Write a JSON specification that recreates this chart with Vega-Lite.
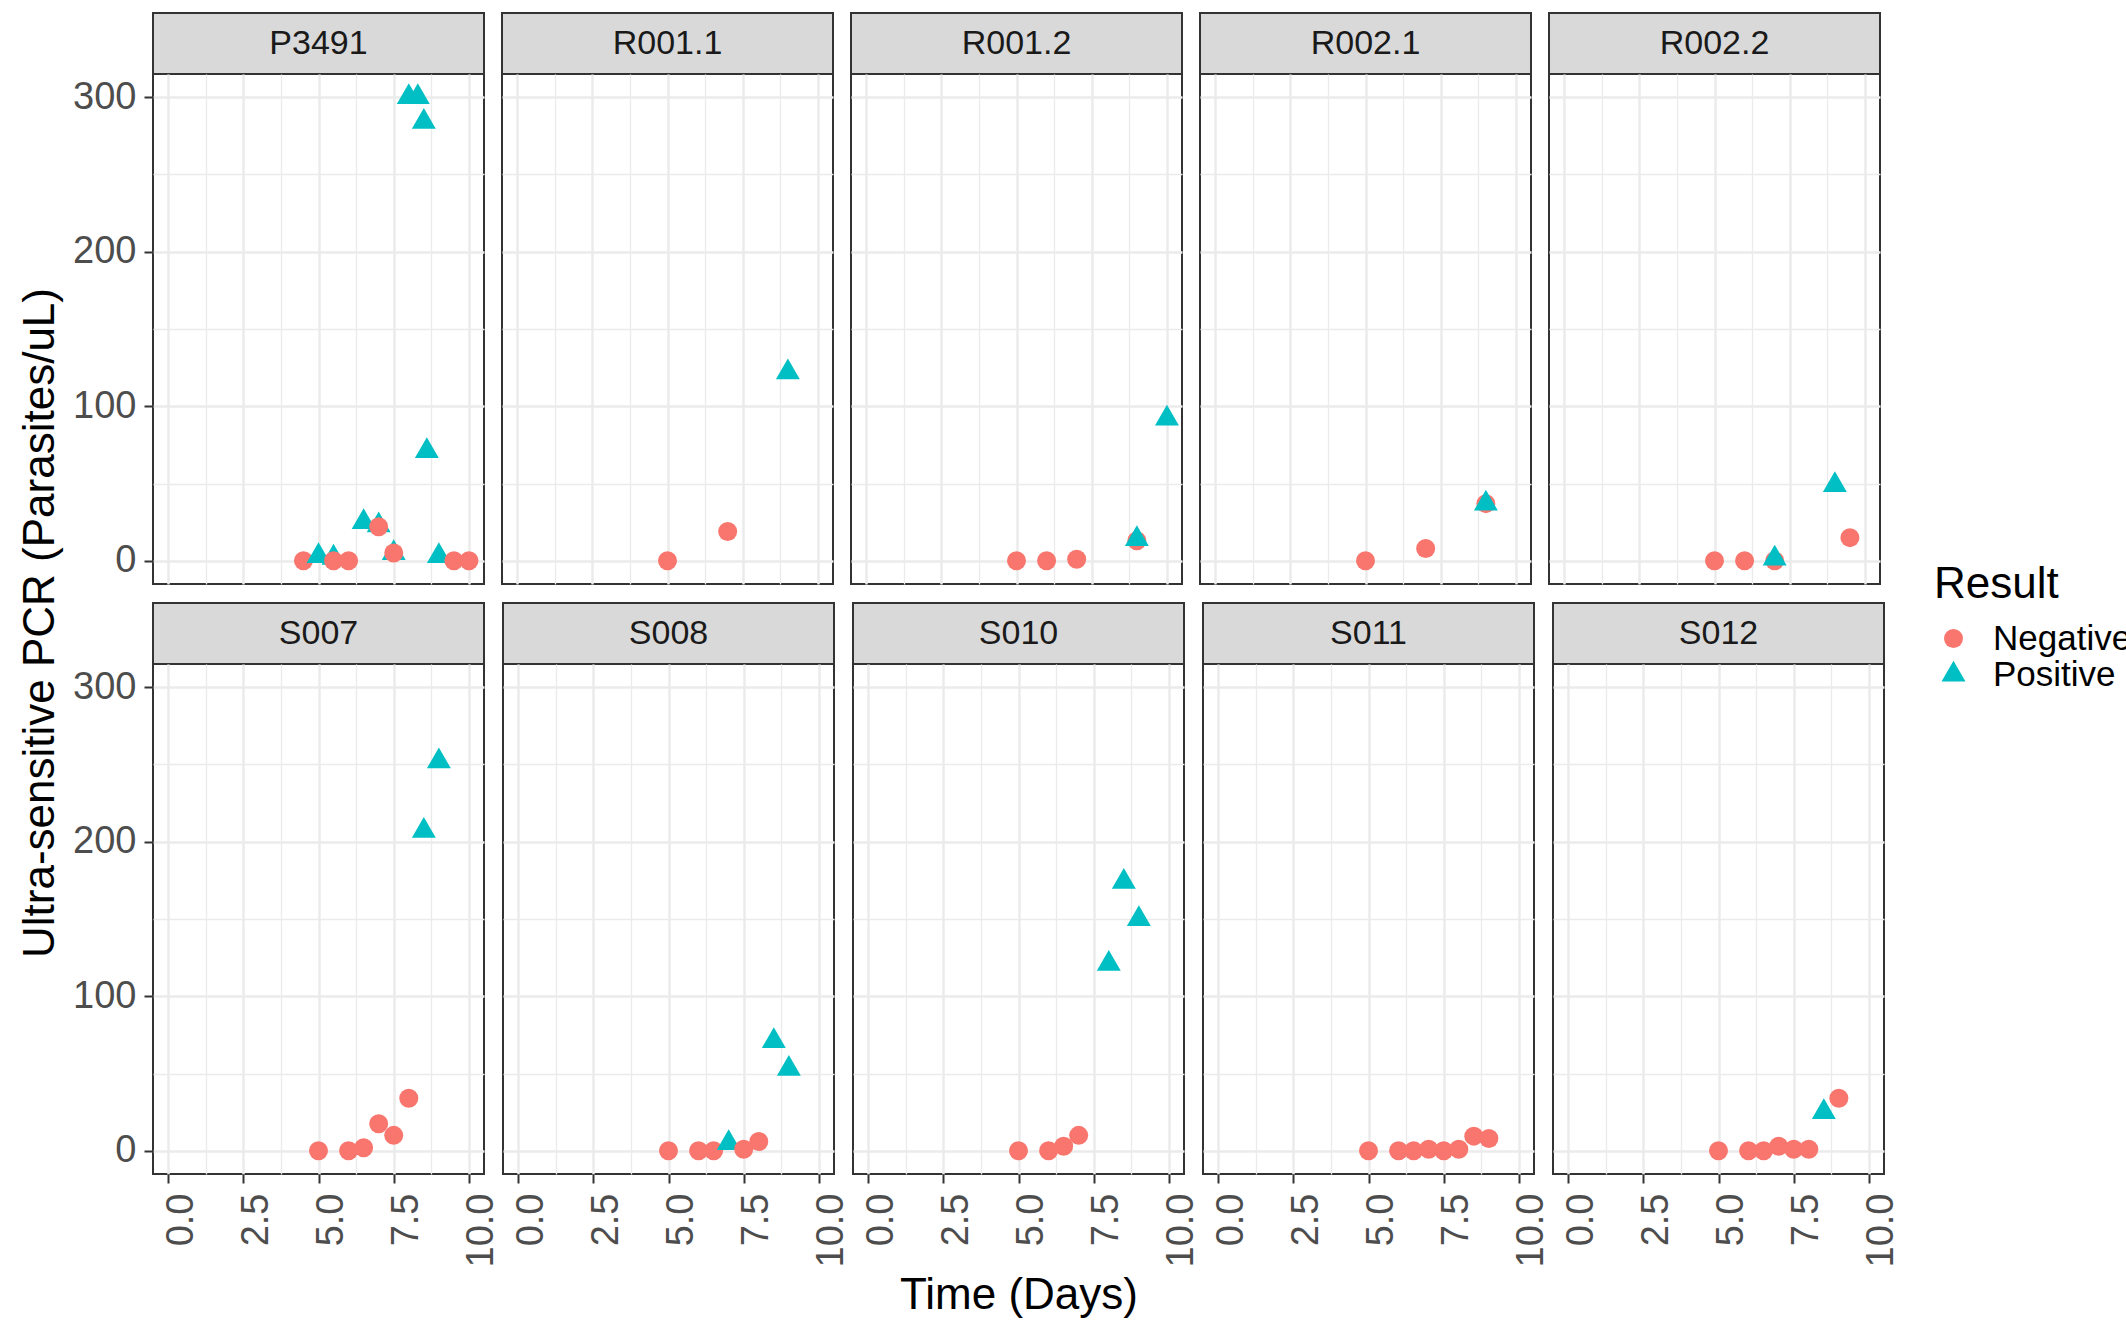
{
  "$schema": "https://vega.github.io/schema/vega-lite/v6.json",
  "background": "white",
  "padding": {"left": 0, "top": 12, "right": 0, "bottom": 0},
  "data": {"values": [
    {"Sample": "P3491", "Time": 4.5, "PCR": 0, "Result": "Negative"},
    {"Sample": "P3491", "Time": 5.0, "PCR": 3, "Result": "Positive"},
    {"Sample": "P3491", "Time": 5.5, "PCR": 2, "Result": "Positive"},
    {"Sample": "P3491", "Time": 5.5, "PCR": 0, "Result": "Negative"},
    {"Sample": "P3491", "Time": 6.0, "PCR": 0, "Result": "Negative"},
    {"Sample": "P3491", "Time": 6.5, "PCR": 25, "Result": "Positive"},
    {"Sample": "P3491", "Time": 7.0, "PCR": 23, "Result": "Positive"},
    {"Sample": "P3491", "Time": 7.0, "PCR": 22, "Result": "Negative"},
    {"Sample": "P3491", "Time": 7.5, "PCR": 5, "Result": "Positive"},
    {"Sample": "P3491", "Time": 7.5, "PCR": 5, "Result": "Negative"},
    {"Sample": "P3491", "Time": 8.0, "PCR": 300, "Result": "Positive"},
    {"Sample": "P3491", "Time": 8.3, "PCR": 300, "Result": "Positive"},
    {"Sample": "P3491", "Time": 8.5, "PCR": 284, "Result": "Positive"},
    {"Sample": "P3491", "Time": 8.6, "PCR": 71, "Result": "Positive"},
    {"Sample": "P3491", "Time": 9.0, "PCR": 3, "Result": "Positive"},
    {"Sample": "P3491", "Time": 9.5, "PCR": 0, "Result": "Negative"},
    {"Sample": "P3491", "Time": 10.0, "PCR": 0, "Result": "Negative"},
    {"Sample": "R001.1", "Time": 5.0, "PCR": 0, "Result": "Negative"},
    {"Sample": "R001.1", "Time": 7.0, "PCR": 19, "Result": "Negative"},
    {"Sample": "R001.1", "Time": 9.0, "PCR": 122, "Result": "Positive"},
    {"Sample": "R001.2", "Time": 5.0, "PCR": 0, "Result": "Negative"},
    {"Sample": "R001.2", "Time": 6.0, "PCR": 0, "Result": "Negative"},
    {"Sample": "R001.2", "Time": 7.0, "PCR": 1, "Result": "Negative"},
    {"Sample": "R001.2", "Time": 9.0, "PCR": 13, "Result": "Negative"},
    {"Sample": "R001.2", "Time": 9.0, "PCR": 14, "Result": "Positive"},
    {"Sample": "R001.2", "Time": 10.0, "PCR": 92, "Result": "Positive"},
    {"Sample": "R002.1", "Time": 5.0, "PCR": 0, "Result": "Negative"},
    {"Sample": "R002.1", "Time": 7.0, "PCR": 8, "Result": "Negative"},
    {"Sample": "R002.1", "Time": 9.0, "PCR": 37, "Result": "Negative"},
    {"Sample": "R002.1", "Time": 9.0, "PCR": 37, "Result": "Positive"},
    {"Sample": "R002.2", "Time": 5.0, "PCR": 0, "Result": "Negative"},
    {"Sample": "R002.2", "Time": 6.0, "PCR": 0, "Result": "Negative"},
    {"Sample": "R002.2", "Time": 7.0, "PCR": 0, "Result": "Negative"},
    {"Sample": "R002.2", "Time": 7.0, "PCR": 1.5, "Result": "Positive"},
    {"Sample": "R002.2", "Time": 9.0, "PCR": 49, "Result": "Positive"},
    {"Sample": "R002.2", "Time": 9.5, "PCR": 15, "Result": "Negative"},
    {"Sample": "S007", "Time": 5.0, "PCR": 0, "Result": "Negative"},
    {"Sample": "S007", "Time": 6.0, "PCR": 0, "Result": "Negative"},
    {"Sample": "S007", "Time": 6.5, "PCR": 2, "Result": "Negative"},
    {"Sample": "S007", "Time": 7.0, "PCR": 17.5, "Result": "Negative"},
    {"Sample": "S007", "Time": 7.5, "PCR": 10, "Result": "Negative"},
    {"Sample": "S007", "Time": 8.0, "PCR": 34, "Result": "Negative"},
    {"Sample": "S007", "Time": 8.5, "PCR": 207, "Result": "Positive"},
    {"Sample": "S007", "Time": 9.0, "PCR": 252, "Result": "Positive"},
    {"Sample": "S008", "Time": 5.0, "PCR": 0, "Result": "Negative"},
    {"Sample": "S008", "Time": 6.0, "PCR": 0, "Result": "Negative"},
    {"Sample": "S008", "Time": 6.5, "PCR": 0, "Result": "Negative"},
    {"Sample": "S008", "Time": 7.0, "PCR": 5, "Result": "Positive"},
    {"Sample": "S008", "Time": 7.5, "PCR": 1, "Result": "Negative"},
    {"Sample": "S008", "Time": 8.0, "PCR": 6, "Result": "Negative"},
    {"Sample": "S008", "Time": 8.5, "PCR": 71, "Result": "Positive"},
    {"Sample": "S008", "Time": 9.0, "PCR": 53, "Result": "Positive"},
    {"Sample": "S010", "Time": 5.0, "PCR": 0, "Result": "Negative"},
    {"Sample": "S010", "Time": 6.0, "PCR": 0, "Result": "Negative"},
    {"Sample": "S010", "Time": 6.5, "PCR": 3, "Result": "Negative"},
    {"Sample": "S010", "Time": 7.0, "PCR": 10, "Result": "Negative"},
    {"Sample": "S010", "Time": 8.0, "PCR": 121, "Result": "Positive"},
    {"Sample": "S010", "Time": 8.5, "PCR": 174, "Result": "Positive"},
    {"Sample": "S010", "Time": 9.0, "PCR": 150, "Result": "Positive"},
    {"Sample": "S011", "Time": 5.0, "PCR": 0, "Result": "Negative"},
    {"Sample": "S011", "Time": 6.0, "PCR": 0, "Result": "Negative"},
    {"Sample": "S011", "Time": 6.5, "PCR": 0, "Result": "Negative"},
    {"Sample": "S011", "Time": 7.0, "PCR": 1, "Result": "Negative"},
    {"Sample": "S011", "Time": 7.5, "PCR": 0, "Result": "Negative"},
    {"Sample": "S011", "Time": 8.0, "PCR": 1, "Result": "Negative"},
    {"Sample": "S011", "Time": 8.5, "PCR": 9.5, "Result": "Negative"},
    {"Sample": "S011", "Time": 9.0, "PCR": 8, "Result": "Negative"},
    {"Sample": "S012", "Time": 5.0, "PCR": 0, "Result": "Negative"},
    {"Sample": "S012", "Time": 6.0, "PCR": 0, "Result": "Negative"},
    {"Sample": "S012", "Time": 6.5, "PCR": 0, "Result": "Negative"},
    {"Sample": "S012", "Time": 7.0, "PCR": 3, "Result": "Negative"},
    {"Sample": "S012", "Time": 7.5, "PCR": 1, "Result": "Negative"},
    {"Sample": "S012", "Time": 8.0, "PCR": 1, "Result": "Negative"},
    {"Sample": "S012", "Time": 8.5, "PCR": 25, "Result": "Positive"},
    {"Sample": "S012", "Time": 9.0, "PCR": 34, "Result": "Negative"}
  ]},
  "config": {
    "font": "Liberation Sans",
    "view": {"stroke": "#333333", "strokeWidth": 2},
    "axis": {
      "labelFont": "Liberation Sans", "labelFontSize": 38, "labelColor": "#4d4d4d",
      "tickColor": "#333333", "tickWidth": 2, "tickSize": 9, "domain": false,
      "gridColor": "#ebebeb", "titleFont": "Liberation Sans", "titleFontSize": 44,
      "titleFontWeight": "normal", "titleColor": "black", "labelOverlap": false, "labelFlush": false
    },
    "concat": {"spacing": 18}
  },
  "hconcat": [
    {
      "width": 60, "height": 1220,
      "data": {"values": [{"t": "Ultra-sensitive PCR (Parasites/uL)"}]},
      "mark": {"type": "text", "angle": 270, "fontSize": 44, "font": "Liberation Sans", "color": "black", "align": "center", "baseline": "middle", "dy": 11},
      "encoding": {"text": {"field": "t"}},
      "view": {"stroke": null}
    },
    {
      "spacing": 17,
      "vconcat": [
        {"spacing": 16, "hconcat": [
          {"spacing": 0, "bounds": "flush", "vconcat": [
            {"width": 331, "height": 61, "view": {"fill": "#d9d9d9", "stroke": "#333333", "strokeWidth": 2},
             "transform": [{"filter": "datum.Sample === 'P3491'"}, {"aggregate": [{"op": "count", "as": "n"}], "groupby": ["Sample"]}],
             "mark": {"type": "text", "fontSize": 34, "color": "#1a1a1a", "align": "center", "baseline": "middle"},
             "encoding": {"text": {"field": "Sample"}}},
            {"width": 331, "height": 510,
             "transform": [{"filter": "datum.Sample === 'P3491'"}],
             "mark": {"type": "point", "filled": true, "opacity": 1, "size": 361, "strokeWidth": 0},
             "encoding": {
               "x": {"field": "Time", "type": "quantitative", "scale": {"domain": [-0.5, 10.5], "nice": false, "zero": false},
                     "axis": {"values": [0, 1.25, 2.5, 3.75, 5, 6.25, 7.5, 8.75, 10], "labels": false, "ticks": false, "title": null,
                              "gridWidth": {"condition": {"test": "datum.value % 2.5 === 0", "value": 2.5}, "value": 1.3}}},
               "y": {"field": "PCR", "type": "quantitative", "scale": {"domain": [-15, 315], "nice": false, "zero": false},
                     "axis": {"values": [0, 50, 100, 150, 200, 250, 300], "title": null, "labelPadding": 8,
                              "labelExpr": "datum.value % 100 === 0 ? datum.label : ''",
                              "tickOpacity": {"condition": {"test": "datum.value % 100 !== 0", "value": 0}, "value": 1},
                              "gridWidth": {"condition": {"test": "datum.value % 100 === 0", "value": 2.5}, "value": 1.3}}},
               "color": {"field": "Result", "type": "nominal", "scale": {"domain": ["Negative", "Positive"], "range": ["#F8766D", "#00BFC4"]},
                         "legend": {"title": "Result", "orient": "none", "legendX": 1934, "legendY": 550, "padding": 0, "titleFontSize": 44, "titleFontWeight": "normal", "titleColor": "black", "titlePadding": 14, "labelFontSize": 35, "labelColor": "black", "symbolSize": 361, "symbolStrokeWidth": 0, "symbolOffset": 2, "labelOffset": 22, "rowPadding": -3}},
               "shape": {"field": "Result", "type": "nominal", "scale": {"domain": ["Negative", "Positive"], "range": ["circle", "M0,-1.46L1.26,0.73L-1.26,0.73Z"]},
                         "legend": {"title": "Result", "orient": "none", "legendX": 1934, "legendY": 550, "padding": 0, "titleFontSize": 44, "titleFontWeight": "normal", "titleColor": "black", "titlePadding": 14, "labelFontSize": 35, "labelColor": "black", "symbolSize": 361, "symbolStrokeWidth": 0, "symbolOffset": 2, "labelOffset": 22, "rowPadding": -3}}
             }}
          ]},
          {"spacing": 0, "bounds": "flush", "vconcat": [
            {"width": 331, "height": 61, "view": {"fill": "#d9d9d9", "stroke": "#333333", "strokeWidth": 2},
             "transform": [{"filter": "datum.Sample === 'R001.1'"}, {"aggregate": [{"op": "count", "as": "n"}], "groupby": ["Sample"]}],
             "mark": {"type": "text", "fontSize": 34, "color": "#1a1a1a", "align": "center", "baseline": "middle"},
             "encoding": {"text": {"field": "Sample"}}},
            {"width": 331, "height": 510,
             "transform": [{"filter": "datum.Sample === 'R001.1'"}],
             "mark": {"type": "point", "filled": true, "opacity": 1, "size": 361, "strokeWidth": 0},
             "encoding": {
               "x": {"field": "Time", "type": "quantitative", "scale": {"domain": [-0.5, 10.5], "nice": false, "zero": false},
                     "axis": {"values": [0, 1.25, 2.5, 3.75, 5, 6.25, 7.5, 8.75, 10], "labels": false, "ticks": false, "title": null,
                              "gridWidth": {"condition": {"test": "datum.value % 2.5 === 0", "value": 2.5}, "value": 1.3}}},
               "y": {"field": "PCR", "type": "quantitative", "scale": {"domain": [-15, 315], "nice": false, "zero": false},
                     "axis": {"values": [0, 50, 100, 150, 200, 250, 300], "labels": false, "ticks": false, "title": null,
                              "gridWidth": {"condition": {"test": "datum.value % 100 === 0", "value": 2.5}, "value": 1.3}}},
               "color": {"field": "Result", "type": "nominal", "scale": {"domain": ["Negative", "Positive"], "range": ["#F8766D", "#00BFC4"]},
                         "legend": {"title": "Result", "orient": "none", "legendX": 1934, "legendY": 550, "padding": 0, "titleFontSize": 44, "titleFontWeight": "normal", "titleColor": "black", "titlePadding": 14, "labelFontSize": 35, "labelColor": "black", "symbolSize": 361, "symbolStrokeWidth": 0, "symbolOffset": 2, "labelOffset": 22, "rowPadding": -3}},
               "shape": {"field": "Result", "type": "nominal", "scale": {"domain": ["Negative", "Positive"], "range": ["circle", "M0,-1.46L1.26,0.73L-1.26,0.73Z"]},
                         "legend": {"title": "Result", "orient": "none", "legendX": 1934, "legendY": 550, "padding": 0, "titleFontSize": 44, "titleFontWeight": "normal", "titleColor": "black", "titlePadding": 14, "labelFontSize": 35, "labelColor": "black", "symbolSize": 361, "symbolStrokeWidth": 0, "symbolOffset": 2, "labelOffset": 22, "rowPadding": -3}}
             }}
          ]},
          {"spacing": 0, "bounds": "flush", "vconcat": [
            {"width": 331, "height": 61, "view": {"fill": "#d9d9d9", "stroke": "#333333", "strokeWidth": 2},
             "transform": [{"filter": "datum.Sample === 'R001.2'"}, {"aggregate": [{"op": "count", "as": "n"}], "groupby": ["Sample"]}],
             "mark": {"type": "text", "fontSize": 34, "color": "#1a1a1a", "align": "center", "baseline": "middle"},
             "encoding": {"text": {"field": "Sample"}}},
            {"width": 331, "height": 510,
             "transform": [{"filter": "datum.Sample === 'R001.2'"}],
             "mark": {"type": "point", "filled": true, "opacity": 1, "size": 361, "strokeWidth": 0},
             "encoding": {
               "x": {"field": "Time", "type": "quantitative", "scale": {"domain": [-0.5, 10.5], "nice": false, "zero": false},
                     "axis": {"values": [0, 1.25, 2.5, 3.75, 5, 6.25, 7.5, 8.75, 10], "labels": false, "ticks": false, "title": null,
                              "gridWidth": {"condition": {"test": "datum.value % 2.5 === 0", "value": 2.5}, "value": 1.3}}},
               "y": {"field": "PCR", "type": "quantitative", "scale": {"domain": [-15, 315], "nice": false, "zero": false},
                     "axis": {"values": [0, 50, 100, 150, 200, 250, 300], "labels": false, "ticks": false, "title": null,
                              "gridWidth": {"condition": {"test": "datum.value % 100 === 0", "value": 2.5}, "value": 1.3}}},
               "color": {"field": "Result", "type": "nominal", "scale": {"domain": ["Negative", "Positive"], "range": ["#F8766D", "#00BFC4"]},
                         "legend": {"title": "Result", "orient": "none", "legendX": 1934, "legendY": 550, "padding": 0, "titleFontSize": 44, "titleFontWeight": "normal", "titleColor": "black", "titlePadding": 14, "labelFontSize": 35, "labelColor": "black", "symbolSize": 361, "symbolStrokeWidth": 0, "symbolOffset": 2, "labelOffset": 22, "rowPadding": -3}},
               "shape": {"field": "Result", "type": "nominal", "scale": {"domain": ["Negative", "Positive"], "range": ["circle", "M0,-1.46L1.26,0.73L-1.26,0.73Z"]},
                         "legend": {"title": "Result", "orient": "none", "legendX": 1934, "legendY": 550, "padding": 0, "titleFontSize": 44, "titleFontWeight": "normal", "titleColor": "black", "titlePadding": 14, "labelFontSize": 35, "labelColor": "black", "symbolSize": 361, "symbolStrokeWidth": 0, "symbolOffset": 2, "labelOffset": 22, "rowPadding": -3}}
             }}
          ]},
          {"spacing": 0, "bounds": "flush", "vconcat": [
            {"width": 331, "height": 61, "view": {"fill": "#d9d9d9", "stroke": "#333333", "strokeWidth": 2},
             "transform": [{"filter": "datum.Sample === 'R002.1'"}, {"aggregate": [{"op": "count", "as": "n"}], "groupby": ["Sample"]}],
             "mark": {"type": "text", "fontSize": 34, "color": "#1a1a1a", "align": "center", "baseline": "middle"},
             "encoding": {"text": {"field": "Sample"}}},
            {"width": 331, "height": 510,
             "transform": [{"filter": "datum.Sample === 'R002.1'"}],
             "mark": {"type": "point", "filled": true, "opacity": 1, "size": 361, "strokeWidth": 0},
             "encoding": {
               "x": {"field": "Time", "type": "quantitative", "scale": {"domain": [-0.5, 10.5], "nice": false, "zero": false},
                     "axis": {"values": [0, 1.25, 2.5, 3.75, 5, 6.25, 7.5, 8.75, 10], "labels": false, "ticks": false, "title": null,
                              "gridWidth": {"condition": {"test": "datum.value % 2.5 === 0", "value": 2.5}, "value": 1.3}}},
               "y": {"field": "PCR", "type": "quantitative", "scale": {"domain": [-15, 315], "nice": false, "zero": false},
                     "axis": {"values": [0, 50, 100, 150, 200, 250, 300], "labels": false, "ticks": false, "title": null,
                              "gridWidth": {"condition": {"test": "datum.value % 100 === 0", "value": 2.5}, "value": 1.3}}},
               "color": {"field": "Result", "type": "nominal", "scale": {"domain": ["Negative", "Positive"], "range": ["#F8766D", "#00BFC4"]},
                         "legend": {"title": "Result", "orient": "none", "legendX": 1934, "legendY": 550, "padding": 0, "titleFontSize": 44, "titleFontWeight": "normal", "titleColor": "black", "titlePadding": 14, "labelFontSize": 35, "labelColor": "black", "symbolSize": 361, "symbolStrokeWidth": 0, "symbolOffset": 2, "labelOffset": 22, "rowPadding": -3}},
               "shape": {"field": "Result", "type": "nominal", "scale": {"domain": ["Negative", "Positive"], "range": ["circle", "M0,-1.46L1.26,0.73L-1.26,0.73Z"]},
                         "legend": {"title": "Result", "orient": "none", "legendX": 1934, "legendY": 550, "padding": 0, "titleFontSize": 44, "titleFontWeight": "normal", "titleColor": "black", "titlePadding": 14, "labelFontSize": 35, "labelColor": "black", "symbolSize": 361, "symbolStrokeWidth": 0, "symbolOffset": 2, "labelOffset": 22, "rowPadding": -3}}
             }}
          ]},
          {"spacing": 0, "bounds": "flush", "vconcat": [
            {"width": 331, "height": 61, "view": {"fill": "#d9d9d9", "stroke": "#333333", "strokeWidth": 2},
             "transform": [{"filter": "datum.Sample === 'R002.2'"}, {"aggregate": [{"op": "count", "as": "n"}], "groupby": ["Sample"]}],
             "mark": {"type": "text", "fontSize": 34, "color": "#1a1a1a", "align": "center", "baseline": "middle"},
             "encoding": {"text": {"field": "Sample"}}},
            {"width": 331, "height": 510,
             "transform": [{"filter": "datum.Sample === 'R002.2'"}],
             "mark": {"type": "point", "filled": true, "opacity": 1, "size": 361, "strokeWidth": 0},
             "encoding": {
               "x": {"field": "Time", "type": "quantitative", "scale": {"domain": [-0.5, 10.5], "nice": false, "zero": false},
                     "axis": {"values": [0, 1.25, 2.5, 3.75, 5, 6.25, 7.5, 8.75, 10], "labels": false, "ticks": false, "title": null,
                              "gridWidth": {"condition": {"test": "datum.value % 2.5 === 0", "value": 2.5}, "value": 1.3}}},
               "y": {"field": "PCR", "type": "quantitative", "scale": {"domain": [-15, 315], "nice": false, "zero": false},
                     "axis": {"values": [0, 50, 100, 150, 200, 250, 300], "labels": false, "ticks": false, "title": null,
                              "gridWidth": {"condition": {"test": "datum.value % 100 === 0", "value": 2.5}, "value": 1.3}}},
               "color": {"field": "Result", "type": "nominal", "scale": {"domain": ["Negative", "Positive"], "range": ["#F8766D", "#00BFC4"]},
                         "legend": {"title": "Result", "orient": "none", "legendX": 1934, "legendY": 550, "padding": 0, "titleFontSize": 44, "titleFontWeight": "normal", "titleColor": "black", "titlePadding": 14, "labelFontSize": 35, "labelColor": "black", "symbolSize": 361, "symbolStrokeWidth": 0, "symbolOffset": 2, "labelOffset": 22, "rowPadding": -3}},
               "shape": {"field": "Result", "type": "nominal", "scale": {"domain": ["Negative", "Positive"], "range": ["circle", "M0,-1.46L1.26,0.73L-1.26,0.73Z"]},
                         "legend": {"title": "Result", "orient": "none", "legendX": 1934, "legendY": 550, "padding": 0, "titleFontSize": 44, "titleFontWeight": "normal", "titleColor": "black", "titlePadding": 14, "labelFontSize": 35, "labelColor": "black", "symbolSize": 361, "symbolStrokeWidth": 0, "symbolOffset": 2, "labelOffset": 22, "rowPadding": -3}}
             }}
          ]}
        ]},
        {"spacing": 0, "hconcat": [
          {"spacing": 0, "bounds": "flush", "vconcat": [
            {"width": 331, "height": 61, "view": {"fill": "#d9d9d9", "stroke": "#333333", "strokeWidth": 2},
             "transform": [{"filter": "datum.Sample === 'S007'"}, {"aggregate": [{"op": "count", "as": "n"}], "groupby": ["Sample"]}],
             "mark": {"type": "text", "fontSize": 34, "color": "#1a1a1a", "align": "center", "baseline": "middle"},
             "encoding": {"text": {"field": "Sample"}}},
            {"width": 331, "height": 510,
             "transform": [{"filter": "datum.Sample === 'S007'"}],
             "mark": {"type": "point", "filled": true, "opacity": 1, "size": 361, "strokeWidth": 0},
             "encoding": {
               "x": {"field": "Time", "type": "quantitative", "scale": {"domain": [-0.5, 10.5], "nice": false, "zero": false},
                     "axis": {"values": [0, 1.25, 2.5, 3.75, 5, 6.25, 7.5, 8.75, 10], "title": null,
                              "labelExpr": "datum.value % 2.5 === 0 ? format(datum.value, '.1f') : ''",
                              "labelAngle": 270, "labelAlign": "right", "labelBaseline": "top", "labelPadding": 10, "labelOffset": -6,
                              "tickOpacity": {"condition": {"test": "datum.value % 2.5 !== 0", "value": 0}, "value": 1},
                              "gridWidth": {"condition": {"test": "datum.value % 2.5 === 0", "value": 2.5}, "value": 1.3}}},
               "y": {"field": "PCR", "type": "quantitative", "scale": {"domain": [-15, 315], "nice": false, "zero": false},
                     "axis": {"values": [0, 50, 100, 150, 200, 250, 300], "title": null, "labelPadding": 8,
                              "labelExpr": "datum.value % 100 === 0 ? datum.label : ''",
                              "tickOpacity": {"condition": {"test": "datum.value % 100 !== 0", "value": 0}, "value": 1},
                              "gridWidth": {"condition": {"test": "datum.value % 100 === 0", "value": 2.5}, "value": 1.3}}},
               "color": {"field": "Result", "type": "nominal", "scale": {"domain": ["Negative", "Positive"], "range": ["#F8766D", "#00BFC4"]},
                         "legend": {"title": "Result", "orient": "none", "legendX": 1934, "legendY": 550, "padding": 0, "titleFontSize": 44, "titleFontWeight": "normal", "titleColor": "black", "titlePadding": 14, "labelFontSize": 35, "labelColor": "black", "symbolSize": 361, "symbolStrokeWidth": 0, "symbolOffset": 2, "labelOffset": 22, "rowPadding": -3}},
               "shape": {"field": "Result", "type": "nominal", "scale": {"domain": ["Negative", "Positive"], "range": ["circle", "M0,-1.46L1.26,0.73L-1.26,0.73Z"]},
                         "legend": {"title": "Result", "orient": "none", "legendX": 1934, "legendY": 550, "padding": 0, "titleFontSize": 44, "titleFontWeight": "normal", "titleColor": "black", "titlePadding": 14, "labelFontSize": 35, "labelColor": "black", "symbolSize": 361, "symbolStrokeWidth": 0, "symbolOffset": 2, "labelOffset": 22, "rowPadding": -3}}
             }}
          ]},
          {"spacing": 0, "bounds": "flush", "vconcat": [
            {"width": 331, "height": 61, "view": {"fill": "#d9d9d9", "stroke": "#333333", "strokeWidth": 2},
             "transform": [{"filter": "datum.Sample === 'S008'"}, {"aggregate": [{"op": "count", "as": "n"}], "groupby": ["Sample"]}],
             "mark": {"type": "text", "fontSize": 34, "color": "#1a1a1a", "align": "center", "baseline": "middle"},
             "encoding": {"text": {"field": "Sample"}}},
            {"width": 331, "height": 510,
             "transform": [{"filter": "datum.Sample === 'S008'"}],
             "mark": {"type": "point", "filled": true, "opacity": 1, "size": 361, "strokeWidth": 0},
             "encoding": {
               "x": {"field": "Time", "type": "quantitative", "scale": {"domain": [-0.5, 10.5], "nice": false, "zero": false},
                     "axis": {"values": [0, 1.25, 2.5, 3.75, 5, 6.25, 7.5, 8.75, 10], "title": null,
                              "labelExpr": "datum.value % 2.5 === 0 ? format(datum.value, '.1f') : ''",
                              "labelAngle": 270, "labelAlign": "right", "labelBaseline": "top", "labelPadding": 10, "labelOffset": -6,
                              "tickOpacity": {"condition": {"test": "datum.value % 2.5 !== 0", "value": 0}, "value": 1},
                              "gridWidth": {"condition": {"test": "datum.value % 2.5 === 0", "value": 2.5}, "value": 1.3}}},
               "y": {"field": "PCR", "type": "quantitative", "scale": {"domain": [-15, 315], "nice": false, "zero": false},
                     "axis": {"values": [0, 50, 100, 150, 200, 250, 300], "labels": false, "ticks": false, "title": null,
                              "gridWidth": {"condition": {"test": "datum.value % 100 === 0", "value": 2.5}, "value": 1.3}}},
               "color": {"field": "Result", "type": "nominal", "scale": {"domain": ["Negative", "Positive"], "range": ["#F8766D", "#00BFC4"]},
                         "legend": {"title": "Result", "orient": "none", "legendX": 1934, "legendY": 550, "padding": 0, "titleFontSize": 44, "titleFontWeight": "normal", "titleColor": "black", "titlePadding": 14, "labelFontSize": 35, "labelColor": "black", "symbolSize": 361, "symbolStrokeWidth": 0, "symbolOffset": 2, "labelOffset": 22, "rowPadding": -3}},
               "shape": {"field": "Result", "type": "nominal", "scale": {"domain": ["Negative", "Positive"], "range": ["circle", "M0,-1.46L1.26,0.73L-1.26,0.73Z"]},
                         "legend": {"title": "Result", "orient": "none", "legendX": 1934, "legendY": 550, "padding": 0, "titleFontSize": 44, "titleFontWeight": "normal", "titleColor": "black", "titlePadding": 14, "labelFontSize": 35, "labelColor": "black", "symbolSize": 361, "symbolStrokeWidth": 0, "symbolOffset": 2, "labelOffset": 22, "rowPadding": -3}}
             }}
          ]},
          {"spacing": 0, "bounds": "flush", "vconcat": [
            {"width": 331, "height": 61, "view": {"fill": "#d9d9d9", "stroke": "#333333", "strokeWidth": 2},
             "transform": [{"filter": "datum.Sample === 'S010'"}, {"aggregate": [{"op": "count", "as": "n"}], "groupby": ["Sample"]}],
             "mark": {"type": "text", "fontSize": 34, "color": "#1a1a1a", "align": "center", "baseline": "middle"},
             "encoding": {"text": {"field": "Sample"}}},
            {"width": 331, "height": 510,
             "transform": [{"filter": "datum.Sample === 'S010'"}],
             "mark": {"type": "point", "filled": true, "opacity": 1, "size": 361, "strokeWidth": 0},
             "encoding": {
               "x": {"field": "Time", "type": "quantitative", "scale": {"domain": [-0.5, 10.5], "nice": false, "zero": false},
                     "axis": {"values": [0, 1.25, 2.5, 3.75, 5, 6.25, 7.5, 8.75, 10], "title": "Time (Days)", "titlePadding": 7,
                              "labelExpr": "datum.value % 2.5 === 0 ? format(datum.value, '.1f') : ''",
                              "labelAngle": 270, "labelAlign": "right", "labelBaseline": "top", "labelPadding": 10, "labelOffset": -6,
                              "tickOpacity": {"condition": {"test": "datum.value % 2.5 !== 0", "value": 0}, "value": 1},
                              "gridWidth": {"condition": {"test": "datum.value % 2.5 === 0", "value": 2.5}, "value": 1.3}}},
               "y": {"field": "PCR", "type": "quantitative", "scale": {"domain": [-15, 315], "nice": false, "zero": false},
                     "axis": {"values": [0, 50, 100, 150, 200, 250, 300], "labels": false, "ticks": false, "title": null,
                              "gridWidth": {"condition": {"test": "datum.value % 100 === 0", "value": 2.5}, "value": 1.3}}},
               "color": {"field": "Result", "type": "nominal", "scale": {"domain": ["Negative", "Positive"], "range": ["#F8766D", "#00BFC4"]},
                         "legend": {"title": "Result", "orient": "none", "legendX": 1934, "legendY": 550, "padding": 0, "titleFontSize": 44, "titleFontWeight": "normal", "titleColor": "black", "titlePadding": 14, "labelFontSize": 35, "labelColor": "black", "symbolSize": 361, "symbolStrokeWidth": 0, "symbolOffset": 2, "labelOffset": 22, "rowPadding": -3}},
               "shape": {"field": "Result", "type": "nominal", "scale": {"domain": ["Negative", "Positive"], "range": ["circle", "M0,-1.46L1.26,0.73L-1.26,0.73Z"]},
                         "legend": {"title": "Result", "orient": "none", "legendX": 1934, "legendY": 550, "padding": 0, "titleFontSize": 44, "titleFontWeight": "normal", "titleColor": "black", "titlePadding": 14, "labelFontSize": 35, "labelColor": "black", "symbolSize": 361, "symbolStrokeWidth": 0, "symbolOffset": 2, "labelOffset": 22, "rowPadding": -3}}
             }}
          ]},
          {"spacing": 0, "bounds": "flush", "vconcat": [
            {"width": 331, "height": 61, "view": {"fill": "#d9d9d9", "stroke": "#333333", "strokeWidth": 2},
             "transform": [{"filter": "datum.Sample === 'S011'"}, {"aggregate": [{"op": "count", "as": "n"}], "groupby": ["Sample"]}],
             "mark": {"type": "text", "fontSize": 34, "color": "#1a1a1a", "align": "center", "baseline": "middle"},
             "encoding": {"text": {"field": "Sample"}}},
            {"width": 331, "height": 510,
             "transform": [{"filter": "datum.Sample === 'S011'"}],
             "mark": {"type": "point", "filled": true, "opacity": 1, "size": 361, "strokeWidth": 0},
             "encoding": {
               "x": {"field": "Time", "type": "quantitative", "scale": {"domain": [-0.5, 10.5], "nice": false, "zero": false},
                     "axis": {"values": [0, 1.25, 2.5, 3.75, 5, 6.25, 7.5, 8.75, 10], "title": null,
                              "labelExpr": "datum.value % 2.5 === 0 ? format(datum.value, '.1f') : ''",
                              "labelAngle": 270, "labelAlign": "right", "labelBaseline": "top", "labelPadding": 10, "labelOffset": -6,
                              "tickOpacity": {"condition": {"test": "datum.value % 2.5 !== 0", "value": 0}, "value": 1},
                              "gridWidth": {"condition": {"test": "datum.value % 2.5 === 0", "value": 2.5}, "value": 1.3}}},
               "y": {"field": "PCR", "type": "quantitative", "scale": {"domain": [-15, 315], "nice": false, "zero": false},
                     "axis": {"values": [0, 50, 100, 150, 200, 250, 300], "labels": false, "ticks": false, "title": null,
                              "gridWidth": {"condition": {"test": "datum.value % 100 === 0", "value": 2.5}, "value": 1.3}}},
               "color": {"field": "Result", "type": "nominal", "scale": {"domain": ["Negative", "Positive"], "range": ["#F8766D", "#00BFC4"]},
                         "legend": {"title": "Result", "orient": "none", "legendX": 1934, "legendY": 550, "padding": 0, "titleFontSize": 44, "titleFontWeight": "normal", "titleColor": "black", "titlePadding": 14, "labelFontSize": 35, "labelColor": "black", "symbolSize": 361, "symbolStrokeWidth": 0, "symbolOffset": 2, "labelOffset": 22, "rowPadding": -3}},
               "shape": {"field": "Result", "type": "nominal", "scale": {"domain": ["Negative", "Positive"], "range": ["circle", "M0,-1.46L1.26,0.73L-1.26,0.73Z"]},
                         "legend": {"title": "Result", "orient": "none", "legendX": 1934, "legendY": 550, "padding": 0, "titleFontSize": 44, "titleFontWeight": "normal", "titleColor": "black", "titlePadding": 14, "labelFontSize": 35, "labelColor": "black", "symbolSize": 361, "symbolStrokeWidth": 0, "symbolOffset": 2, "labelOffset": 22, "rowPadding": -3}}
             }}
          ]},
          {"spacing": 0, "bounds": "flush", "vconcat": [
            {"width": 331, "height": 61, "view": {"fill": "#d9d9d9", "stroke": "#333333", "strokeWidth": 2},
             "transform": [{"filter": "datum.Sample === 'S012'"}, {"aggregate": [{"op": "count", "as": "n"}], "groupby": ["Sample"]}],
             "mark": {"type": "text", "fontSize": 34, "color": "#1a1a1a", "align": "center", "baseline": "middle"},
             "encoding": {"text": {"field": "Sample"}}},
            {"width": 331, "height": 510,
             "transform": [{"filter": "datum.Sample === 'S012'"}],
             "mark": {"type": "point", "filled": true, "opacity": 1, "size": 361, "strokeWidth": 0},
             "encoding": {
               "x": {"field": "Time", "type": "quantitative", "scale": {"domain": [-0.5, 10.5], "nice": false, "zero": false},
                     "axis": {"values": [0, 1.25, 2.5, 3.75, 5, 6.25, 7.5, 8.75, 10], "title": null,
                              "labelExpr": "datum.value % 2.5 === 0 ? format(datum.value, '.1f') : ''",
                              "labelAngle": 270, "labelAlign": "right", "labelBaseline": "top", "labelPadding": 10, "labelOffset": -6,
                              "tickOpacity": {"condition": {"test": "datum.value % 2.5 !== 0", "value": 0}, "value": 1},
                              "gridWidth": {"condition": {"test": "datum.value % 2.5 === 0", "value": 2.5}, "value": 1.3}}},
               "y": {"field": "PCR", "type": "quantitative", "scale": {"domain": [-15, 315], "nice": false, "zero": false},
                     "axis": {"values": [0, 50, 100, 150, 200, 250, 300], "labels": false, "ticks": false, "title": null,
                              "gridWidth": {"condition": {"test": "datum.value % 100 === 0", "value": 2.5}, "value": 1.3}}},
               "color": {"field": "Result", "type": "nominal", "scale": {"domain": ["Negative", "Positive"], "range": ["#F8766D", "#00BFC4"]},
                         "legend": {"title": "Result", "orient": "none", "legendX": 1934, "legendY": 550, "padding": 0, "titleFontSize": 44, "titleFontWeight": "normal", "titleColor": "black", "titlePadding": 14, "labelFontSize": 35, "labelColor": "black", "symbolSize": 361, "symbolStrokeWidth": 0, "symbolOffset": 2, "labelOffset": 22, "rowPadding": -3}},
               "shape": {"field": "Result", "type": "nominal", "scale": {"domain": ["Negative", "Positive"], "range": ["circle", "M0,-1.46L1.26,0.73L-1.26,0.73Z"]},
                         "legend": {"title": "Result", "orient": "none", "legendX": 1934, "legendY": 550, "padding": 0, "titleFontSize": 44, "titleFontWeight": "normal", "titleColor": "black", "titlePadding": 14, "labelFontSize": 35, "labelColor": "black", "symbolSize": 361, "symbolStrokeWidth": 0, "symbolOffset": 2, "labelOffset": 22, "rowPadding": -3}}
             }}
          ]}
        ]}
      ]
    }
  ],
  "spacing": 8
}
